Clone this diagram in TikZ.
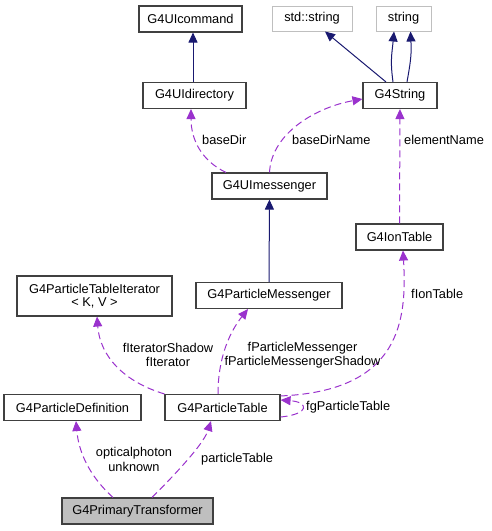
\documentclass[tikz,border=0pt]{standalone}
\usepackage{fontspec}
\setmainfont{Liberation Sans}
\usetikzlibrary{arrows.meta}

\definecolor{inhblue}{HTML}{191970}
\definecolor{usepurple}{HTML}{9A32CD}
\definecolor{extgrey}{HTML}{BFBFBF}

\begin{document}
\begin{tikzpicture}[x=1pt,y=-1pt,
  font=\fontsize{12.8}{14.5}\selectfont,
  cls/.style={draw=black!75,line width=1.1pt,fill=white,inner sep=0pt,align=center,minimum height=26pt},
  ext/.style={draw=extgrey,line width=1pt,fill=white,inner sep=0pt,minimum height=25pt},
  inh/.style={draw=inhblue,line width=1pt,-{Triangle[length=10pt,width=9pt]}},
  use/.style={draw=usepurple,line width=1pt,dash pattern=on 7pt off 4pt,-{Triangle[length=10pt,width=9pt]}},
  lbl/.style={inner sep=0pt,align=center}]
\useasboundingbox (0,0) rectangle (491,531);

% classes
\node[cls,minimum width=103pt] (cmd) at (190.5,19) {G4UIcommand};
\node[ext,minimum width=80pt] (stds) at (312,18.5) {std::string};
\node[ext,minimum width=55pt] (str) at (403.5,18.5) {string};
\node[cls,minimum width=103pt] (dir) at (194.5,95.5) {G4UIdirectory};
\node[cls,minimum width=74pt] (g4s) at (400,95.5) {G4String};
\node[cls,minimum width=115pt] (msg) at (269.5,186) {G4UImessenger};
\node[cls,minimum width=87pt] (ion) at (399.5,237) {G4IonTable};
\node[cls,minimum width=155pt,minimum height=40pt] (iter) at (94.5,296) {G4ParticleTableIterator\\[-1pt]< K, V >};
\node[cls,minimum width=146pt] (pmsg) at (269,295.5) {G4ParticleMessenger};
\node[cls,minimum width=137pt] (pdef) at (72.5,407.5) {G4ParticleDefinition};
\node[cls,minimum width=115pt] (ptab) at (222.5,407.5) {G4ParticleTable};
\node[cls,fill=extgrey,minimum width=151pt] (prim) at (137.5,511) {G4PrimaryTransformer};

% inheritance
\draw[inh] ([xshift=-1.5]dir.north) -- ([xshift=2.5]cmd.south);
\draw[inh] ([xshift=-14]g4s.north) -- ([xshift=13]stds.south);
\draw[inh] ([xshift=-7]g4s.north) .. controls +(-3,-22) and +(-2,22) .. ([xshift=-9.5]str.south);
\draw[inh] ([xshift=7]g4s.north) .. controls +(4,-22) and +(1,22) .. ([xshift=7]str.south);
\draw[inh] (pmsg) -- (msg);

% usage
\draw[use] ([xshift=-43.5]msg.north) .. controls +(-25,-12) and +(0,30) .. ([xshift=-3.5]dir.south);
\node[lbl,anchor=west] (lbaseDir) at (202,140) {baseDir};
\draw[use] (msg.north) .. controls +(2,-40) and +(-45,8) .. ([yshift=-3.5pt]g4s.west);
\node[lbl,anchor=west] (lbaseDirName) at (292,140) {baseDirName};
\draw[use] (ion) -- (g4s);
\node[lbl,anchor=west] (lelementName) at (404,140) {elementName};

\draw[use] ([yshift=-2pt]ptab.north east) .. controls +(120,-5) and +(4,70) .. ([xshift=3.5]ion.south);
\node[lbl,anchor=west] (lIonTable) at (411,294) {fIonTable};
\draw[use] (ptab.north west) .. controls +(-40,-12) and +(3,40) .. ([xshift=2.5]iter.south);
\node[lbl] (lIterator) at (168,355) {fIteratorShadow\\fIterator};
\draw[use] ([xshift=-4.5]ptab.north) .. controls +(0,-45) and +(-12,15) .. ([xshift=-21]pmsg.south);
\node[lbl] (lMessenger) at (302.5,355) {fParticleMessenger\\fParticleMessengerShadow};
\draw[use] ([yshift=-9.5pt]ptab.east) .. controls +(30,-3) and +(28,2) .. ([yshift=7.5pt]ptab.east);
\node[lbl,anchor=west] (lgParticleTable) at (306,407) {fgParticleTable};

\draw[use] ([xshift=-24.5]prim.north) .. controls +(-20,-18) and +(3,35) .. ([xshift=3.5]pdef.south);
\node[lbl] (lphoton) at (134,459.5) {opticalphoton\\unknown};
\draw[use] ([xshift=14.5]prim.north) .. controls +(15,-15) and +(-8,25) .. ([xshift=-11.5]ptab.south);
\node[lbl,anchor=west] (lparticleTable) at (201,459) {particleTable};
\end{tikzpicture}
\end{document}
